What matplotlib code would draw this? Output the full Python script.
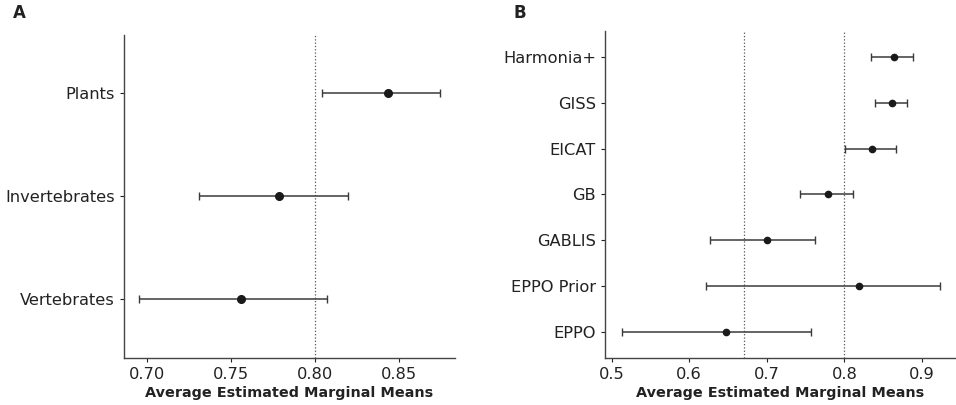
import matplotlib
matplotlib.use('Agg')
import matplotlib.pyplot as plt

# panel A: taxonomic groups
groups = ['Vertebrates', 'Invertebrates', 'Plants']
groups_mean = [0.7558, 0.7788, 0.8435]
groups_low = [0.6952, 0.7311, 0.8044]
groups_high = [0.8073, 0.8200, 0.8748]

# panel B: assessment schemes
schemes = ['EPPO', 'EPPO Prior', 'GABLIS', 'GB', 'EICAT', 'GISS', 'Harmonia+']
schemes_mean = [0.6475, 0.8183, 0.7000, 0.7794, 0.8360, 0.8617, 0.8643]
schemes_low = [0.5132, 0.6211, 0.6275, 0.7429, 0.8004, 0.8398, 0.8338]
schemes_high = [0.7568, 0.9237, 0.7622, 0.8111, 0.8659, 0.8804, 0.8887]

ref_a = [0.80]
ref_b = [0.671, 0.80]

LINE = '#3a3a3a'
TXT = '#222222'


def panel(ax, labels, mean, low, high, refs, msize):
  y = list(range(len(labels)))
  err = [[m - l for m, l in zip(mean, low)], [h - m for m, h in zip(mean, high)]]
  for r in refs:
    ax.axvline(r, color='#555555', linestyle=':', linewidth=0.9, zorder=1)
  ax.errorbar(mean, y, xerr=err, fmt='o', color='#1a1a1a', ecolor=LINE,
              elinewidth=1.1, capsize=3, capthick=1.0, markersize=msize, zorder=3)
  ax.set_yticks(y)
  ax.set_yticklabels(labels)
  ax.set_ylim(-0.58, len(labels) - 1 + 0.57)
  for s in ['top', 'right']:
    ax.spines[s].set_visible(False)
  for s in ['left', 'bottom']:
    ax.spines[s].set_color('#444444')
    ax.spines[s].set_linewidth(1.0)
  ax.tick_params(axis='both', labelsize=11.7, colors=TXT, length=3, width=0.8)
  ax.tick_params(axis='y', pad=3.5)
  ax.set_xlabel('Average Estimated Marginal Means', fontsize=10.4,
                fontweight='bold', color=TXT, labelpad=3)


def main():
  fig = plt.figure(figsize=(9.56, 4.05), dpi=100)
  ax_a = fig.add_axes([0.1297, 0.116, 0.346, 0.798])
  ax_b = fig.add_axes([0.633, 0.116, 0.366, 0.807])

  panel(ax_a, groups, groups_mean, groups_low, groups_high, ref_a, 5.5)
  ax_a.set_xlim(0.6863, 0.8833)
  ax_a.set_xticks([0.70, 0.75, 0.80, 0.85])
  ax_a.set_xticklabels(['0.70', '0.75', '0.80', '0.85'])

  panel(ax_b, schemes, schemes_mean, schemes_low, schemes_high, ref_b, 4.5)
  ax_b.set_xlim(0.4918, 0.9425)
  ax_b.set_xticks([0.5, 0.6, 0.7, 0.8, 0.9])
  ax_b.set_xticklabels(['0.5', '0.6', '0.7', '0.8', '0.9'])

  fig.text(0.014, 0.955, 'A', fontsize=12, fontweight='bold', color=TXT)
  fig.text(0.537, 0.955, 'B', fontsize=12, fontweight='bold', color=TXT)

  fig.savefig('out.png', dpi=100)


if __name__ == '__main__':
  main()
